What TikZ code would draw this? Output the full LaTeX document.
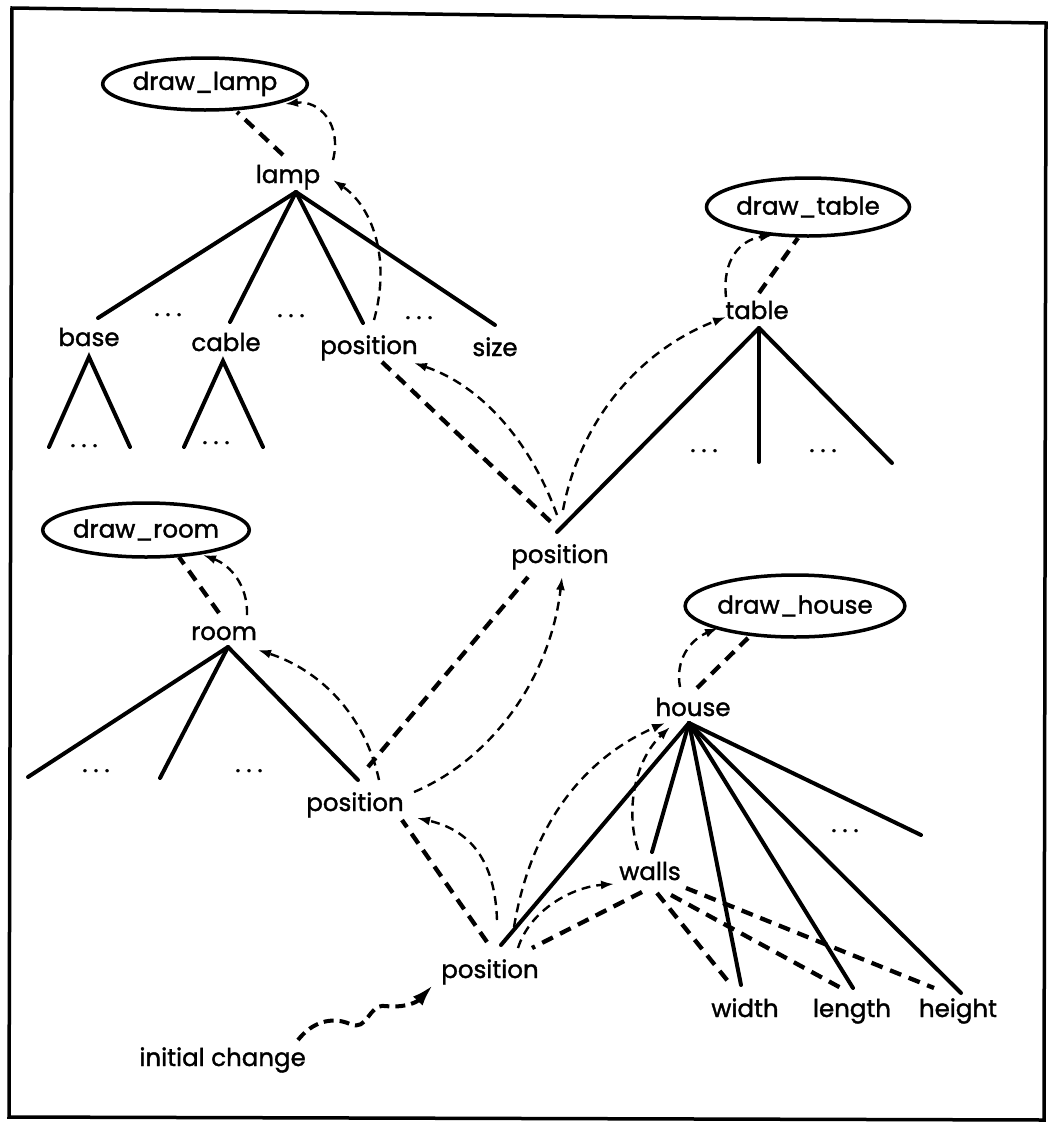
\documentclass[tikz,border=0pt]{standalone}
\usepackage{fontspec}
\setmainfont{Poppins}
\newfontfamily\lblfont{Poppins}[FakeBold=1.5]
\usetikzlibrary{shapes.geometric,arrows.meta,calc}
\begin{document}
\begin{tikzpicture}[x=1pt,y=-1pt,
  lbl/.style={inner sep=1pt, font=\lblfont\fontsize{24.5}{26}\selectfont, text height=17pt, text depth=5pt},
  proc/.style={ellipse, draw, line width=3.5pt, inner sep=0pt, font=\lblfont\fontsize{24.5}{26}\selectfont},
  edge/.style={line width=4pt, line cap=round},
  dep/.style={line width=4.3pt, dash pattern=on 12pt off 8pt},
  prop/.style={line width=2.4pt, dash pattern=on 9pt off 6pt, -{Latex[length=13pt,width=9pt]}},
  dotsn/.style={inner sep=0pt, anchor=base, font=\lblfont\fontsize{24}{26}\selectfont}]
\useasboundingbox (0,0) rectangle (1049,1133);
% frame
\draw[line width=3.5pt] (12,8) -- (1046,23) -- (1044,1120) -- (9,1117) -- cycle;

% nodes
\node[proc, minimum width=196pt, minimum height=52pt] (dlamp) at (205,84) {draw\_lamp};
\node[lbl] (lamp) at (288,177) {lamp};
\node[lbl] (base) at (89,340) {base};
\node[lbl] (cable) at (226,345) {cable};
\node[lbl] (lpos) at (369,348) {position};
\node[lbl] (nsize) at (495,350) {size};
\node[proc, minimum width=190pt, minimum height=58pt] (dtable) at (808,207) {draw\_table};
\node[lbl] (ntable) at (757,313) {table};
\node[lbl] (mpos) at (560,557) {position};
\node[proc, minimum width=188pt, minimum height=54pt] (droom) at (146,530) {draw\_room};
\node[lbl] (room) at (224,634) {room};
\node[lbl] (rpos) at (355,805) {position};
\node[proc, minimum width=200pt, minimum height=62pt] (dhouse) at (795,606) {draw\_house};
\node[lbl] (house) at (693,710) {house};
\node[lbl] (walls) at (650,874) {walls};
\node[lbl] (bpos) at (490,972) {position};
\node[lbl] (nwidth) at (745,1011) {width};
\node[lbl] (nlength) at (852,1011) {length};
\node[lbl] (nheight) at (958,1011) {height};
\node[lbl, anchor=east] (init) at (307,1060) {initial change};

% dots
\node[dotsn] (ld1) at (168,316) {.\hspace{6pt}.\hspace{6pt}.};
\node[dotsn] (ld2) at (291,317) {.\hspace{6pt}.\hspace{6pt}.};
\node[dotsn] (ld3) at (419,319) {.\hspace{6pt}.\hspace{6pt}.};
\node[dotsn] (bd) at (84,447) {.\hspace{6pt}.\hspace{6pt}.};
\node[dotsn] (cd) at (216,444) {.\hspace{6pt}.\hspace{6pt}.};
\node[dotsn] (td1) at (704,452) {.\hspace{6pt}.\hspace{6pt}.};
\node[dotsn] (td2) at (823,452) {.\hspace{6pt}.\hspace{6pt}.};
\node[dotsn] (rd1) at (96,772) {.\hspace{6pt}.\hspace{6pt}.};
\node[dotsn] (rd2) at (249,772) {.\hspace{6pt}.\hspace{6pt}.};
\node[dotsn] (hd) at (845,832) {.\hspace{6pt}.\hspace{6pt}.};

% apex / foot coordinates
\coordinate (lampA) at ($(lamp)+(8,15)$);
\coordinate (baseA) at ($(base)+(0,17)$);
\coordinate (baseL) at ($(base)+(-40,107)$);
\coordinate (baseR) at ($(base)+(41,107)$);
\coordinate (cableA) at ($(cable)+(-3,16)$);
\coordinate (cableL) at ($(cable)+(-42,102)$);
\coordinate (cableR) at ($(cable)+(37,102)$);
\coordinate (tableA) at ($(ntable)+(2,15)$);
\coordinate (tableM) at ($(ntable)+(2,149)$);
\coordinate (tableR) at ($(ntable)+(135,150)$);
\coordinate (roomA) at ($(room)+(4,13)$);
\coordinate (roomL) at ($(room)+(-196,143)$);
\coordinate (roomM) at ($(room)+(-64,144)$);
\coordinate (houseA) at ($(house)+(-4,13)$);
\coordinate (houseR) at ($(house)+(228,125)$);

% tree edges
\draw[edge] (lampA) -- ($(base)+(9,-22)$);
\draw[edge] (lampA) -- ($(cable)+(4,-23)$);
\draw[edge] (lampA) -- ($(lpos)+(-6,-25)$);
\draw[edge] (lampA) -- ($(nsize)+(0,-25)$);
\draw[edge] (baseL) -- (baseA) -- (baseR);
\draw[edge] (cableL) -- (cableA) -- (cableR);
\draw[edge] (tableA) -- ($(mpos)+(-3,-25)$);
\draw[edge] (tableA) -- (tableM);
\draw[edge] (tableA) -- (tableR);
\draw[edge] (roomA) -- (roomL);
\draw[edge] (roomA) -- (roomM);
\draw[edge] (roomA) -- ($(rpos)+(3,-25)$);
\draw[edge] (houseA) -- ($(bpos)+(11,-27)$);
\draw[edge] (houseA) -- ($(walls)+(2,-22)$);
\draw[edge] (houseA) -- ($(nwidth)+(-4,-26)$);
\draw[edge] (houseA) -- ($(nlength)+(1,-23)$);
\draw[edge] (houseA) -- ($(nheight)+(3,-18)$);
\draw[edge] (houseA) -- (houseR);

% dependency links (thick dashed)
\draw[dep] ($(lamp)+(-5,-22)$) -- ($(dlamp)+(32,28)$);
\draw[dep] ($(lpos)+(13,14)$) -- ($(mpos)+(-8,-34)$);
\draw[dep] ($(ntable)+(2,-20)$) -- ($(dtable)+(-10,31)$);
\draw[dep] ($(room)+(-5,-21)$) -- ($(droom)+(33,27)$);
\draw[dep] ($(rpos)+(13,-38)$) -- ($(mpos)+(-32,20)$);
\draw[dep] ($(house)+(4,-22)$) -- ($(dhouse)+(-47,32)$);
\draw[dep] ($(bpos)+(-3,-30)$) -- ($(rpos)+(47,15)$);
\draw[dep] ($(walls)+(-8,18)$) -- ($(bpos)+(42,-24)$);
\draw[dep] ($(walls)+(7,19)$) -- ($(nwidth)+(-14,-26)$);
\draw[dep] ($(walls)+(21,21)$) -- ($(nlength)+(-11,-23)$);
\draw[dep] ($(walls)+(36,14)$) -- ($(nheight)+(-24,-23)$);

% propagation arrows (thin dashed)
\draw[prop] ($(lamp)+(45,-17)$) .. controls +(9,-35) and +(35,-4) .. ($(dlamp)+(80,20)$);
\draw[prop] ($(lpos)+(5,-28)$) .. controls +(18,-65) and +(37,25) .. ($(lamp)+(45,3)$);
\draw[prop] ($(mpos)+(-3,-42)$) .. controls +(-27,-75) and +(66,22) .. ($(lpos)+(45,15)$);
\draw[prop] ($(ntable)+(-31,-16)$) .. controls +(-4,-37) and +(-33,5) .. ($(dtable)+(-35,28)$);
\draw[prop] ($(mpos)+(3,-47)$) .. controls +(17,-90) and +(-86,33) .. ($(ntable)+(-31,4)$);
\draw[prop] ($(room)+(23,-19)$) .. controls +(1,-30) and +(27,10) .. ($(droom)+(57,25)$);
\draw[prop] ($(rpos)+(24,-25)$) .. controls +(-14,-65) and +(62,20) .. ($(room)+(34,16)$);
\draw[prop] ($(rpos)+(59,-13)$) .. controls +(76,-32) and +(-12,103) .. ($(mpos)+(2,20)$);
\draw[prop] ($(house)+(-13,-23)$) .. controls +(-5,-27) and +(-28,12) .. ($(dhouse)+(-77,22)$);
\draw[prop] ($(bpos)+(7,-52)$) .. controls +(-2,-60) and +(53,12) .. ($(rpos)+(62,13)$);
\draw[prop] ($(bpos)+(24,-45)$) .. controls +(16,-97) and +(-85,37) .. ($(house)+(-28,13)$);
\draw[prop] ($(walls)+(-12,-24)$) .. controls +(-13,-40) and +(-35,33) .. ($(house)+(-23,17)$);
\draw[prop] ($(bpos)+(28,-24)$) .. controls +(12,-38) and +(-42,3) .. ($(walls)+(-36,10)$);

% initial change (wavy)
\draw[line width=4pt, dash pattern=on 10pt off 6pt, -{Latex[length=22pt,width=13pt]}]
  ($(init.east)+(-9,-20)$) .. controls (312,1022) and (332,1016) .. (350,1024)
  .. controls (368,1032) and (368,1004) .. (385,1006)
  .. controls (400,1008) and (415,1004) .. ($(bpos)+(-57,13)$);
\end{tikzpicture}
\end{document}
